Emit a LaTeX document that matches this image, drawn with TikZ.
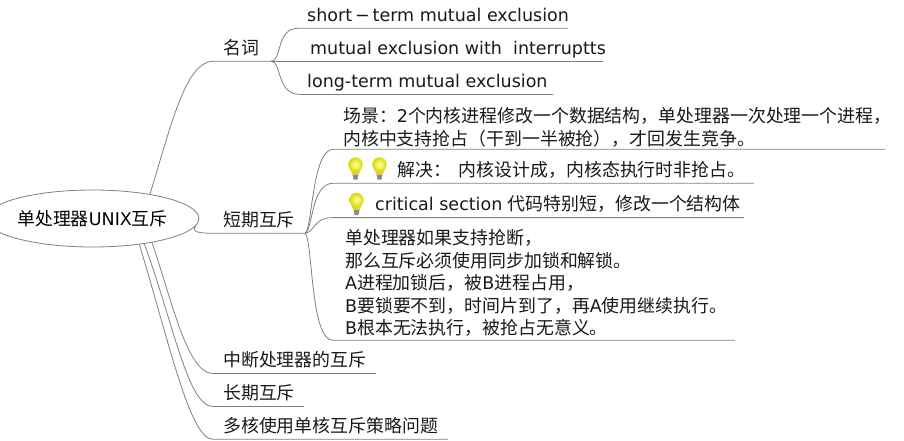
\documentclass[tikz,border=0pt]{standalone}
\usepackage{fontspec}
\setmainfont{DejaVu Sans}
\newfontfamily\cjk[Scale=1.023]{Noto Sans CJK SC}
\newcommand{\zh}[1]{{\cjk #1}}
%% Full-width punctuation.
\newcommand{\dou}{\char"FF0C\relax}
\newcommand{\mao}{\char"FF1A\relax}
\newcommand{\zuo}{\char"FF08\relax}
\newcommand{\you}{\char"FF09\relax}
\usetikzlibrary{positioning,shapes.geometric}

\begin{document}
\begin{tikzpicture}[%%
  x=1pt,y=-1pt,%%
  lineStyle/.style={-,draw=black!50,line width=0.8pt},%%
  rootStyle/.style={ellipse,draw=black!50,line width=0.8pt,minimum width=183pt,minimum height=57pt,inner sep=0pt},%%
  labelStyle/.style={anchor=base west,inner sep=0pt,text=black!90,font=\fontsize{17.5}{22.5}\selectfont},%%
  blockStyle/.style={labelStyle,anchor=south west,align=left}%%
]
%%
\useasboundingbox (0,0) rectangle (904,440);
%%
%% The root of the map.
\node[rootStyle,font=\fontsize{17.5}{20}\selectfont] (root) at (92.5,218.5) {\zh{单处理器}UNIX\zh{互斥}};
%%
%% Ends of the underlines.
\coordinate (nameStart) at (213,61.3);
\coordinate (nameEnd) at (271,61.3);
\coordinate (shortStart) at (213,233.3);
\coordinate (shortEnd) at (305,233.3);
\coordinate (irqStart) at (213,373.5);
\coordinate (irqEnd) at (376,373.5);
\coordinate (longStart) at (213,406.5);
\coordinate (longEnd) at (304,406.5);
\coordinate (multiStart) at (213,439.3);
\coordinate (multiEnd) at (448,439.3);
%%
\coordinate (termStartA) at (298,28.3);
\coordinate (termEndA) at (568,28.3);
\coordinate (termEndB) at (603,61.3);
\coordinate (termStartC) at (300,94.4);
\coordinate (termEndC) at (553,94.4);
%%
\coordinate (noteStartA) at (333,149.3);
\coordinate (noteEndA) at (885,149.3);
\coordinate (noteStartB) at (333,183.3);
\coordinate (noteEndB) at (754,183.3);
\coordinate (noteStartC) at (333,217.6);
\coordinate (noteEndC) at (744,217.6);
\coordinate (noteStartD) at (333,340.3);
\coordinate (noteEndD) at (735,340.3);
%%
%% Branches that leave the root.
\draw[lineStyle] (root.23) .. controls (170,130) and (185,61.3) .. (nameStart) -- (nameEnd);
\draw[lineStyle] (root.-4) .. controls (190,232) and (200,233.3) .. (shortStart) -- (shortEnd);
\draw[lineStyle] (root.-22) .. controls (172,300) and (187,373.5) .. (irqStart) -- (irqEnd);
\draw[lineStyle] (root.-26) .. controls (174,325) and (188,406.5) .. (longStart) -- (longEnd);
\draw[lineStyle] (root.-29) .. controls (170,345) and (190,439.3) .. (multiStart) -- (multiEnd);
%%
%% Branches of the first topic.
\draw[lineStyle] (nameEnd) .. controls (282,61.3) and (276,28.3) .. (termStartA) -- (termEndA);
\draw[lineStyle] (nameEnd) -- (termEndB);
\draw[lineStyle] (nameEnd) .. controls (282,61.3) and (276,94.4) .. (termStartC) -- (termEndC);
%%
%% Branches of the second topic.
\draw[lineStyle] (shortEnd) .. controls (312,232) and (312,149.3) .. (noteStartA) -- (noteEndA);
\draw[lineStyle] (shortEnd) .. controls (313,230) and (311,183.3) .. (noteStartB) -- (noteEndB);
\draw[lineStyle] (shortEnd) .. controls (315,232) and (313,217.6) .. (noteStartC) -- (noteEndC);
\draw[lineStyle] (shortEnd) .. controls (313,240) and (310,340.3) .. (noteStartD) -- (noteEndD);
%%
%% Labels of the topics.
\node[labelStyle] (name) at (223,54.5) {\zh{名词}};
\node[labelStyle] (short) at (223,226.5) {\zh{短期互斥}};
\node[labelStyle] (irq) at (223,366.5) {\zh{中断处理器的互斥}};
\node[labelStyle] (long) at (223,399.5) {\zh{长期互斥}};
\node[labelStyle] (multi) at (223,432.5) {\zh{多核使用单核互斥策略问题}};
%%
%% Labels of the leaves.
\node[labelStyle] (termA) at (307,21.8) {short\,−\,term mutual exclusion};
\node[labelStyle] (termB) at (310,54.8) {mutual exclusion with\ \ interruptts};
\node[labelStyle] (termC) at (307,87.8) {long-term mutual exclusion};
\node[blockStyle] (scene) at (343,147.3) {\zh{场景\mao}2\zh{个内核进程修改一个数据结构\dou 单处理器一次处理一个进程\dou}\\\zh{内核中支持抢占\zuo 干到一半被抢\you\dou 才回发生竞争。}};
\node[labelStyle] (solve) at (397,176.5) {\zh{解决\mao\ \ 内核设计成\dou 内核态执行时非抢占。}};
\node[labelStyle] (critical) at (375,210.8) {critical section \zh{代码特别短\dou 修改一个结构体}};
\node[blockStyle] (preempt) at (345,337) {\zh{单处理器如果支持抢断\dou}\\\zh{那么互斥必须使用同步加锁和解锁。}\\A\zh{进程加锁后\dou 被}B\zh{进程占用\dou}\\B\zh{要锁要不到\dou 时间片到了\dou 再}A\zh{使用继续执行。}\\B\zh{根本无法执行\dou 被抢占无意义。}};
%%
%% The bulbs.
\foreach \xbulb/\ybulb in {355.5/164.5,379.5/164.5,356.5/200}{
  \fill[yellow!85!black] (\xbulb-6,\ybulb+3) -- (\xbulb+6,\ybulb+3) -- (\xbulb+3,\ybulb+10) -- (\xbulb-3,\ybulb+10) -- cycle;
  \shade[inner color=yellow!35!white,outer color=yellow!85!black] (\xbulb,\ybulb) circle (7.2);
  \fill[black!45] (\xbulb-3,\ybulb+10) -- (\xbulb+3,\ybulb+10) -- (\xbulb+2,\ybulb+15) -- (\xbulb-2,\ybulb+15) -- cycle;
}
\end{tikzpicture}
\end{document}
